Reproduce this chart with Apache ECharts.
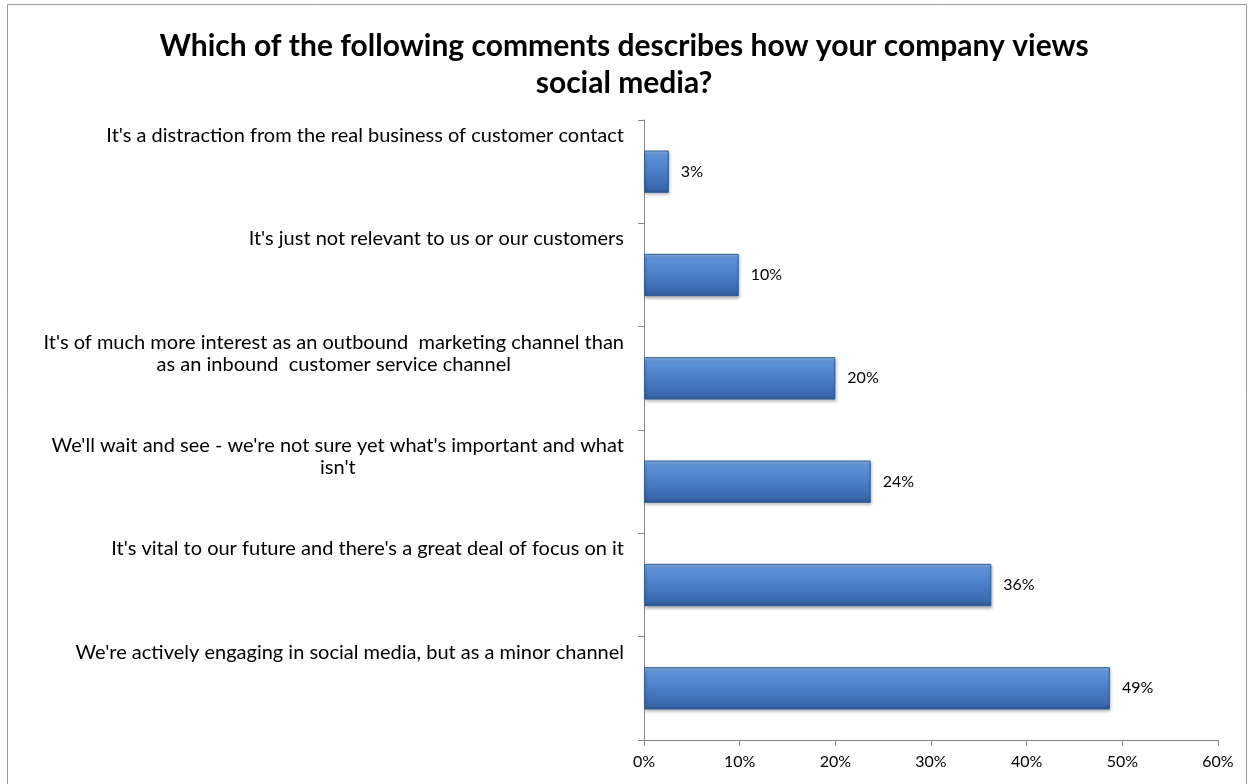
<!DOCTYPE html>
<html>
<head>
<meta charset="utf-8">
<script src="https://cdn.jsdelivr.net/npm/echarts@6/dist/echarts.min.js"></script>
<style>
  html, body { margin: 0; padding: 0; background: #fff; }
  #main { width: 1248px; height: 784px; }
</style>
</head>
<body>
<div id="main"></div>
<script>
var chartDom = document.getElementById('main');
var myChart = echarts.init(chartDom);

// categories, bottom to top (category axis on y goes from the bottom)
let categories = [
  "We're actively engaging in social media, but as a minor channel",
  "It's vital to our future and there's a great deal of focus on it",
  "We'll wait and see - we're not sure yet what's important and what\nisn't",
  "It's of much more interest as an outbound  marketing channel than\nas an inbound  customer service channel",
  "It's just not relevant to us or our customers",
  "It's a distraction from the real business of customer contact"
];
let values = [48.7, 36.3, 23.7, 20.0, 9.9, 2.6];

let font = 'Lato, "Open Sans", sans-serif';

let barColor = new echarts.graphic.LinearGradient(0, 0, 0, 1, [
  { offset: 0, color: '#8db6ec' },
  { offset: 0.12, color: '#5e92d8' },
  { offset: 0.5, color: '#4a7ec6' },
  { offset: 0.88, color: '#3a69ad' },
  { offset: 1, color: '#2c5690' }
]);

var option = {
  backgroundColor: '#fff',
  animation: false,
  title: {
    text: 'Which of the following comments describes how your company views\nsocial media?',
    left: 'center',
    top: 23,
    textStyle: {
      fontFamily: font,
      fontWeight: 'bold',
      fontSize: 30,
      lineHeight: 37,
      color: '#000'
    }
  },
  graphic: [{
    type: 'rect',
    shape: { x: 7.5, y: 4.5, width: 1239, height: 790 },
    style: { fill: 'none', stroke: '#9a9a9a', lineWidth: 1 },
    silent: true
  }],
  grid: { left: 644, right: 30, top: 120, bottom: 44 },
  xAxis: {
    type: 'value',
    min: 0,
    max: 60,
    interval: 10,
    splitLine: { show: false },
    axisLine: { show: true, lineStyle: { color: '#868686' } },
    axisTick: { show: true, length: 6, lineStyle: { color: '#868686' } },
    axisLabel: {
      fontFamily: font,
      fontSize: 16,
      color: '#000',
      margin: 14,
      formatter: function (v) { return v + '%'; }
    }
  },
  yAxis: {
    type: 'category',
    data: categories,
    axisLine: { show: true, lineStyle: { color: '#868686' } },
    axisTick: { show: true, length: 6, lineStyle: { color: '#868686' } },
    axisLabel: {
      fontFamily: font,
      fontSize: 20,
      color: '#000',
      margin: 20,
      align: 'right',
      verticalAlign: 'bottom',
      lineHeight: 22,
      padding: [0, 0, 3, 0],
      formatter: function (v) {
        let lines = v.split('\n');
        if (lines.length < 2) lines.push(' ');
        return lines.map(function (s) { return '{c|' + s + '}'; }).join('\n');
      },
      rich: {
        c: {
          align: 'center',
          fontFamily: font,
          fontSize: 20,
          lineHeight: 22,
          color: '#000'
        }
      }
    }
  },
  series: [{
    type: 'bar',
    data: values,
    barWidth: '41%',
    itemStyle: {
      color: barColor,
      borderColor: '#2f5e99',
      borderWidth: 1,
      shadowColor: 'rgba(0,0,0,0.3)',
      shadowBlur: 3,
      shadowOffsetX: 1,
      shadowOffsetY: 2
    },
    label: {
      show: true,
      position: 'right',
      distance: 12,
      fontFamily: font,
      fontSize: 16,
      color: '#000',
      formatter: function (p) { return Math.round(p.value) + '%'; }
    }
  }]
};

option && myChart.setOption(option);
</script>
</body>
</html>
